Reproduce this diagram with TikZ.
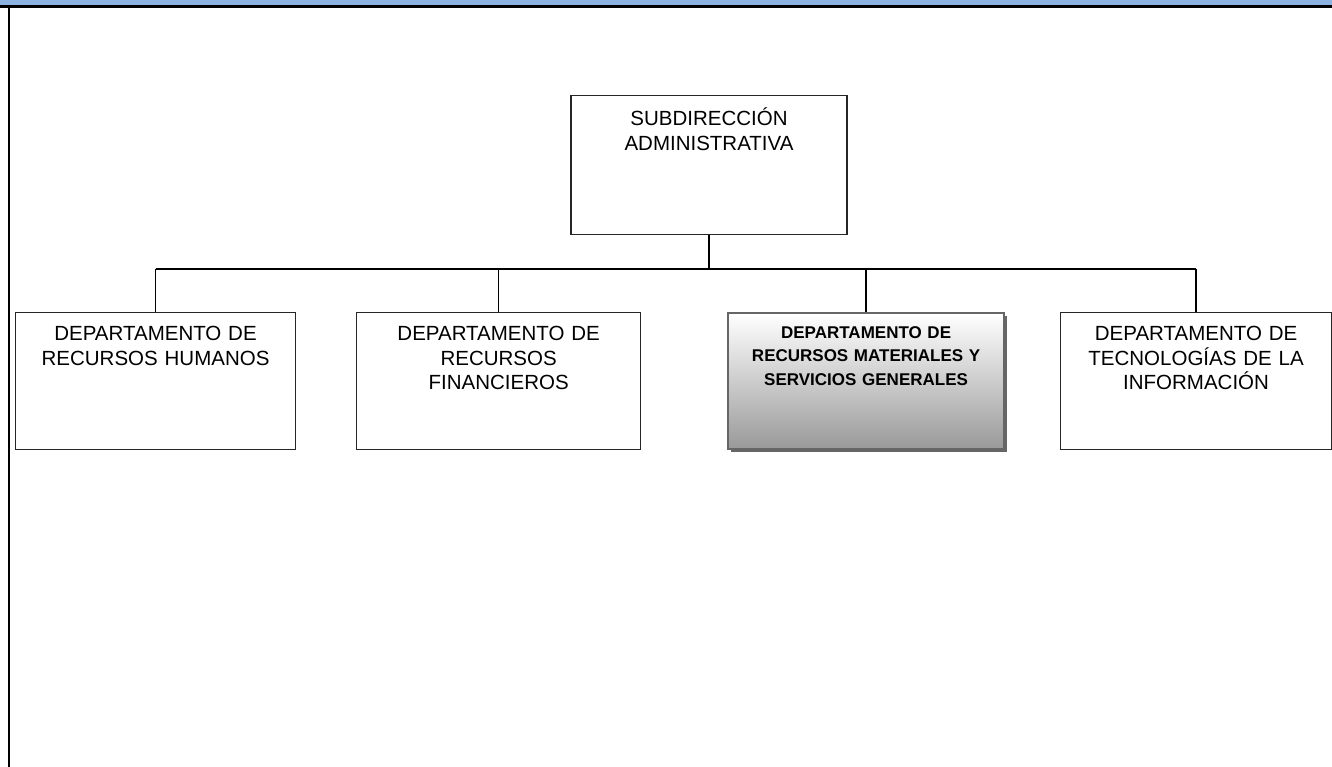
\documentclass[tikz,border=0pt]{standalone}
\usepackage{fontspec}
\setmainfont{Liberation Sans}
\usepackage{tikz}
\usetikzlibrary{positioning, shadows}
\definecolor{bandblue}{RGB}{141,179,226}

\begin{document}
\begin{tikzpicture}[x=1pt, y=1pt]
	\tikzstyle{box} = [rectangle, draw=black!85, line width=1.1pt, inner sep=0pt, align=center, font=\fontsize{20.5}{24.5}\selectfont]
	\tikzstyle{dept} = [box, minimum width=280pt, text width=268pt, text height=28pt, text depth=109pt]
	\tikzstyle{line} = [line width=1.5pt]
	\tikzstyle{busline} = [line width=2pt]

	\useasboundingbox (0,0) rectangle (1332,-767);

	% page band and margin
	\fill[bandblue] (0,0) rectangle (1332,-6);
	\draw[line width=2.2pt] (0,-6.6) -- (1332,-6.6);
	\draw[line width=2.2pt] (9.3,-6) -- (9.3,-767);

	\node[box, minimum width=276pt, text width=268pt, text height=30pt, text depth=109pt, anchor=north](sub) at (709,-95){SUBDIRECCIÓN\\ADMINISTRATIVA};

	\node[dept, anchor=north west](hr) at (15,-312){DEPARTAMENTO DE\\RECURSOS HUMANOS};
	\node[dept, minimum width=284pt, right=60pt of hr](rf){DEPARTAMENTO DE\\RECURSOS\\FINANCIEROS};
	\node[dept, minimum width=276pt, right=86pt of rf, draw=black!60, line width=1.8pt,
		top color=white, bottom color=gray!80,
		drop shadow={shadow xshift=3pt, shadow yshift=-3pt, fill=black!60, opacity=1},
		font=\bfseries\fontsize{17}{23.5}\selectfont, text height=25pt, text depth=111pt](rm){DEPARTAMENTO DE\\RECURSOS MATERIALES Y\\SERVICIOS GENERALES};
	\node[dept, minimum width=271pt, right=55pt of rm](ti){DEPARTAMENTO DE\\TECNOLOGÍAS DE LA\\INFORMACIÓN};

	\coordinate[below=34pt of sub.south](bus);
	\draw[line] (sub) -- (bus);
	\draw[busline] (hr.north |- bus) -- (ti.north |- bus);
	\foreach \d in {hr, rf, rm, ti}
		\draw[line] (\d.north) -- (\d.north |- bus);

\end{tikzpicture}
\end{document}
